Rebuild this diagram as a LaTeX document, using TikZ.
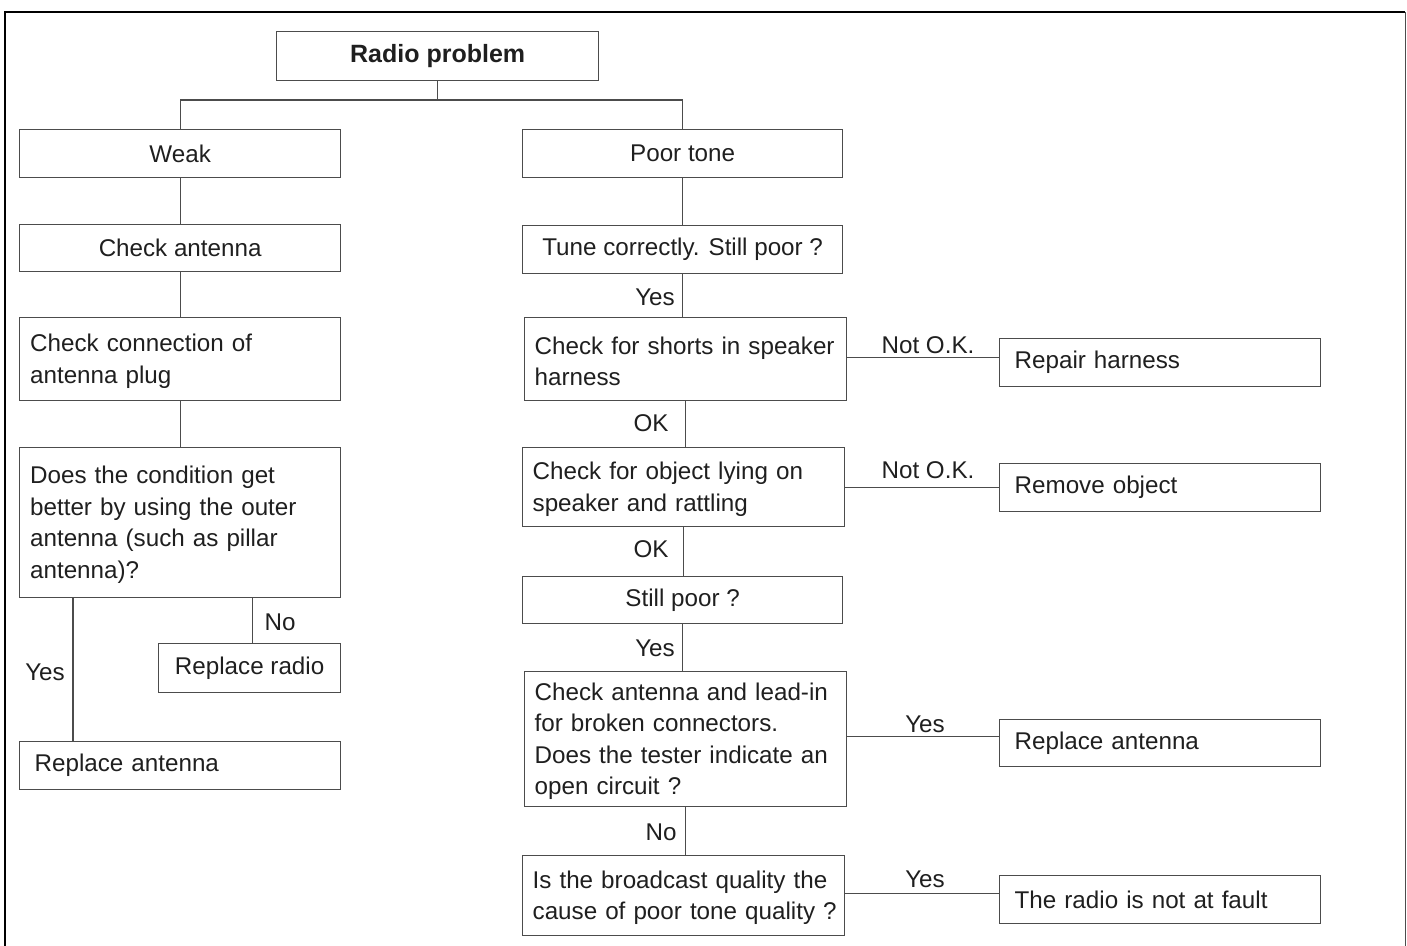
\documentclass[tikz,border=0pt]{standalone}
\usepackage{fontspec}
\setmainfont{Liberation Sans}
\newcommand\fsz{\fontsize{24.2pt}{31.5pt}\selectfont}
\definecolor{lc}{gray}{0.3}
\definecolor{tc}{gray}{0.12}
\tikzset{
  box/.style={draw=lc, line width=1.3pt, inner sep=0pt, anchor=north west, font=\fsz, text=tc},
  lbl/.style={font=\fsz, text=tc, inner sep=0pt},
  conn/.style={draw=lc, line width=1.3pt}
}
\begin{document}
\begin{tikzpicture}[x=1pt,y=-1pt]
\useasboundingbox (0,0) rectangle (1407,945);
% frame
\draw[black, line width=2.2pt] (5,950) -- (5,12) -- (1405,12);
\draw[lc, line width=1pt] (1405,12) -- (1405,950);
% top
\node[box, minimum width=322pt, minimum height=49pt, font=\fontsize{25pt}{30pt}\selectfont\bfseries] (radio) at (276,31) {Radio problem};
% left column
\node[box, minimum width=321pt, minimum height=48pt] (weak) at (19,129) {Weak};
\node[box, minimum width=321pt, minimum height=47pt] (chkant) at (19,224) {Check antenna};
\node[box, minimum width=321pt, minimum height=83pt, text width=300pt, align=left] (conn) at (19,317) {\strut\mbox{Check connection of}\\\mbox{antenna plug}};
\node[box, minimum width=321pt, minimum height=150pt, text width=300pt, align=left] (does) at (19,447) {\strut\mbox{Does the condition get}\\\mbox{better by using the outer}\\\mbox{antenna (such as pillar}\\\mbox{antenna)?}};
\node[box, minimum width=182pt, minimum height=49pt] (rradio) at (158,643) {Replace radio};
\node[box, minimum width=321pt, minimum height=48pt, text width=291pt, align=left] (rantL) at (19,741) {Replace antenna};
% right column
\node[box, minimum width=320pt, minimum height=48pt] (poor) at (522,129) {Poor tone};
\node[box, minimum width=320pt, minimum height=48pt] (tune) at (522,225) {Tune correctly. Still poor ?};
\node[box, minimum width=322pt, minimum height=83pt, text width=302pt, align=left] (shorts) at (524,317) {\strut\mbox{Check for shorts in speaker}\\\mbox{harness}};
\node[box, minimum width=322pt, minimum height=79pt, text width=302pt, align=left] (object) at (522,447) {\strut\mbox{Check for object lying on}\\\mbox{speaker and rattling}};
\node[box, minimum width=320pt, minimum height=47pt] (still) at (522,576) {Still poor ?};
\node[box, minimum width=322pt, minimum height=135pt, text width=302pt, align=left] (antlead) at (524,671) {\strut\mbox{Check antenna and lead-in}\\\mbox{for broken connectors.}\\\mbox{Does the tester indicate an}\\\mbox{open circuit ?}};
\node[box, minimum width=322pt, minimum height=80pt, text width=302pt, align=left] (bcast) at (522,855) {\strut\mbox{Is the broadcast quality the}\\\mbox{cause of poor tone quality ?}};
% far right
\node[box, minimum width=321pt, minimum height=48pt, text width=291pt, align=left] (repair) at (999,338) {Repair harness};
\node[box, minimum width=321pt, minimum height=48pt, text width=291pt, align=left] (remove) at (999,463) {Remove object};
\node[box, minimum width=321pt, minimum height=47pt, text width=291pt, align=left] (rantR) at (999,719) {Replace antenna};
\node[box, minimum width=321pt, minimum height=48pt, text width=291pt, align=left] (fault) at (999,875) {The radio is not at fault};
% connectors top
\coordinate (j) at (438,100);
\draw[conn] (radio.south) -- (radio.south |- j);
\draw[conn] (weak.north) -- (weak.north |- j) -- (poor.north |- j) -- (poor.north);
% left connectors
\draw[conn] (weak.south) -- (weak.south |- chkant.north);
\draw[conn] (chkant.south) -- (chkant.south |- conn.north);
\draw[conn] (conn.south) -- (conn.south |- does.north);
\draw[conn] ([xshift=54pt]does.south west) -- ([xshift=54pt]does.south west |- rantL.north);
\draw[conn] ([xshift=3pt]rradio.north) -- ([xshift=3pt]rradio.north |- does.south);
% right connectors
\draw[conn] (poor.south) -- (poor.south |- tune.north);
\draw[conn] (tune.south) -- (tune.south |- shorts.north);
\draw[conn] (shorts.south) -- (shorts.south |- object.north);
\draw[conn] (object.south) -- (object.south |- still.north);
\draw[conn] (still.south) -- (still.south |- antlead.north);
\draw[conn] (antlead.south) -- (antlead.south |- bcast.north);
\draw[conn] ([yshift=1.5pt]shorts.east) -- ([yshift=1.5pt]shorts.east -| repair.west);
\draw[conn] (object.east) -- (object.east -| remove.west);
\draw[conn] ([yshift=2.5pt]antlead.east) -- ([yshift=2.5pt]antlead.east -| rantR.west);
\draw[conn] ([yshift=2pt]bcast.east) -- ([yshift=2pt]bcast.east -| fault.west);
% labels
\node[lbl] (l1) at (655,297) {Yes};
\node[lbl] (l2) at (651,423) {OK};
\node[lbl] (l3) at (651,549) {OK};
\node[lbl] (l4) at (655,648) {Yes};
\node[lbl] (l5) at (661,832) {No};
\node[lbl] (l6) at (928,345) {Not O.K.};
\node[lbl] (l7) at (928,470) {Not O.K.};
\node[lbl] (l8) at (925,724) {Yes};
\node[lbl] (l9) at (925,879) {Yes};
\node[lbl] (l10) at (45,672) {Yes};
\node[lbl] (l11) at (280,622) {No};
\end{tikzpicture}
\end{document}
